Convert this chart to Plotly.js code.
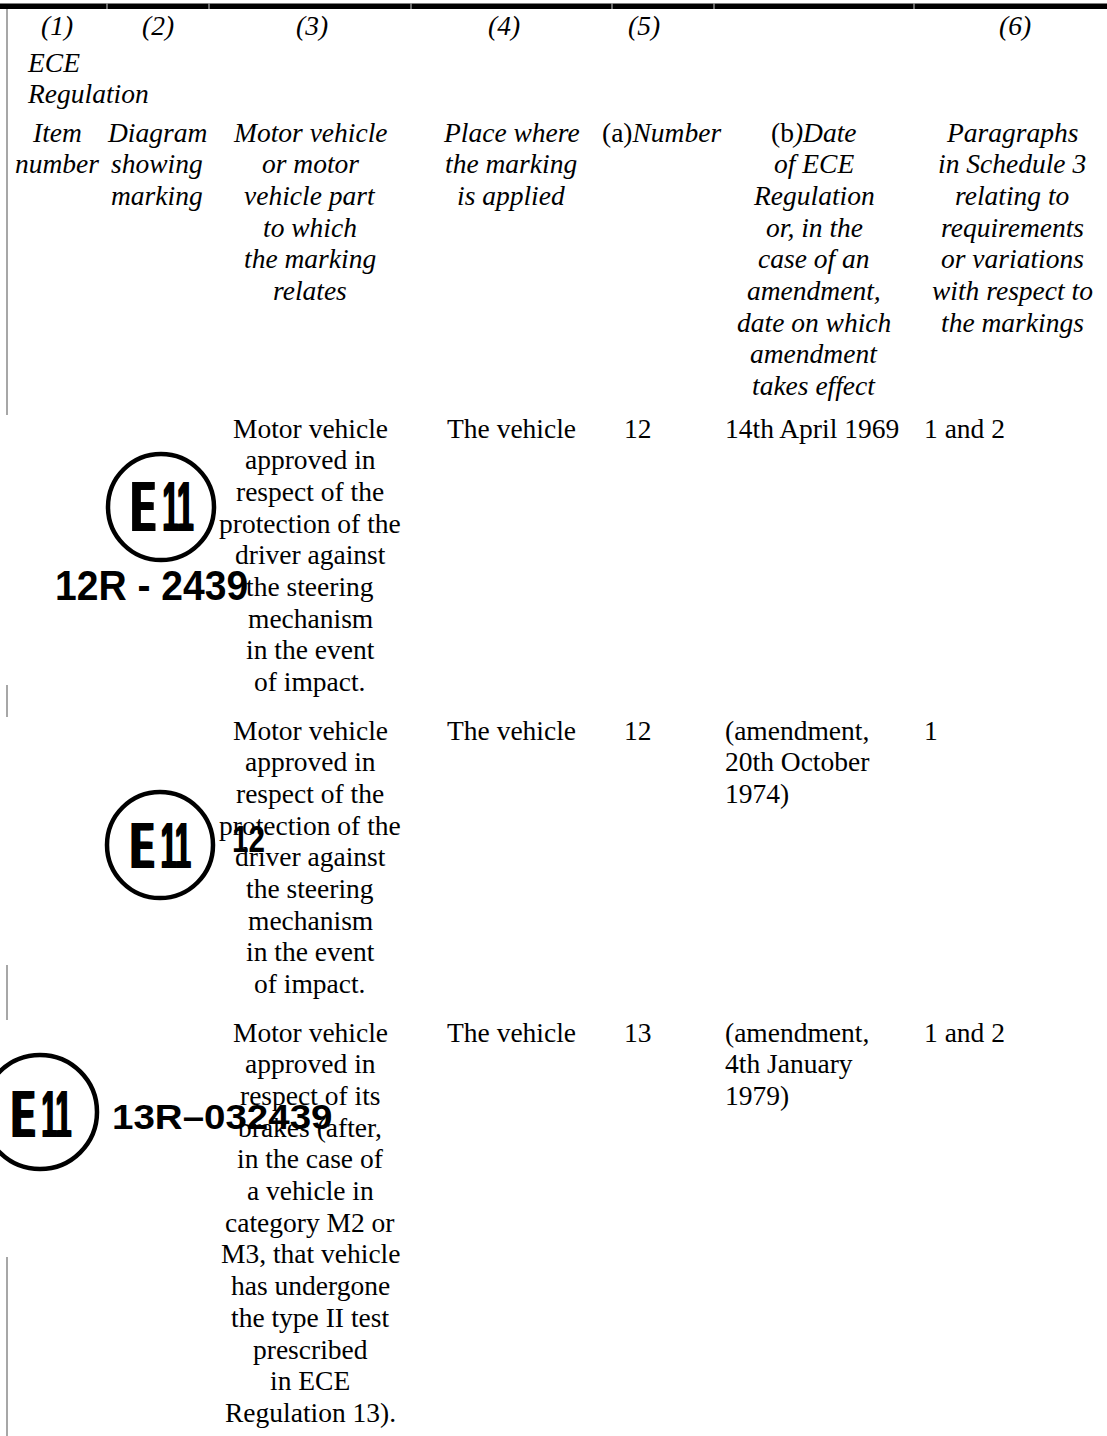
<!DOCTYPE html>
<html>
<head>
<meta charset="utf-8">
<script src="https://cdn.plot.ly/plotly-3.0.1.min.js"></script>
<style>html,body{margin:0;padding:0;background:#fff;}#chart{width:1107px;height:1436px;}</style>
</head>
<body>
<div id="chart"></div>
<script>
// ---------- DATA ----------
const headerNumbers = ['(1)', '(2)', '(3)', '(4)', '(5)', '(6)'];
const headerTop = ['ECE', 'Regulation'];
const headerCells = [
  'Item\nnumber',
  'Diagram\nshowing\nmarking',
  'Motor vehicle\nor motor\nvehicle part\nto which\nthe marking\nrelates',
  'Place where\nthe marking\nis applied',
  '(a)<i>Number</i>',
  '(b<i>)Date</i>\n<i>of ECE</i>\n<i>Regulation</i>\n<i>or, in the</i>\n<i>case of an</i>\n<i>amendment,</i>\n<i>date on which</i>\n<i>amendment</i>\n<i>takes effect</i>',
  'Paragraphs\nin Schedule 3\nrelating to\nrequirements\nor variations\nwith respect to\nthe markings'
];
const vehicleDescriptions = [
  'Motor vehicle\napproved in\nrespect of the\nprotection of the\ndriver against\nthe steering\nmechanism\nin the event\nof impact.',
  'Motor vehicle\napproved in\nrespect of the\nprotection of the\ndriver against\nthe steering\nmechanism\nin the event\nof impact.',
  'Motor vehicle\napproved in\nrespect of its\nbrakes (after,\nin the case of\na vehicle in\ncategory M2 or\nM3, that vehicle\nhas undergone\nthe type II test\nprescribed\nin ECE\nRegulation 13).'
];
const markingPlaces = ['The vehicle', 'The vehicle', 'The vehicle'];
const regulationNumbers = ['12', '12', '13'];
const regulationDates = ['14th April 1969', '(amendment,\n20th October\n1974)', '(amendment,\n4th January\n1979)'];
const scheduleParagraphs = ['1 and 2', '1', '1 and 2'];
const markLetters = ['E', 'E', 'E'];
const markCountries = ['11', '11', '11'];
const markLabels = ['12R - 2439', '12', '13R\u2013032439'];

// ---------- LAYOUT CONSTANTS ----------
const W = 1107, H = 1436;
const SERIF = "'Liberation Serif', 'Times New Roman', Times, serif";
const MARKFONT = "'Liberation Sans Narrow', 'Liberation Sans', Arial, sans-serif";
const FS = 27.5, LH = 31.7;
const colBounds = [7, 107, 209, 411, 612, 714, 914, 1107];
const headerNumX = [57, 158, 312, 504, 644, 1015];
const headerCellX = [57, 157, 310, 511, 661, 814, 1012];
const headerNumY = 25, headerTopY = 62, headerCellY = 132;
const rowY = [428, 730, 1032];
const bodyX = {desc: 310, place: 511, num: 622, date: 723, para: 922};
const markCircle = [{cx: 161, cy: 507, r: 53}, {cx: 160, cy: 845, r: 53}, {cx: 40, cy: 1112, r: 57}];
const markLetterPos = [{x: 143, y: 507, s: 70, sx: 0.5}, {x: 142, y: 846, s: 64, sx: 0.52}, {x: 23, y: 1113, s: 67, sx: 0.5}];
const markCountryPos = [{x: 178, y: 507, s: 70, sx: 0.42}, {x: 176, y: 846, s: 64, sx: 0.44}, {x: 56, y: 1113, s: 67, sx: 0.42}];
const markLabelPos = [{x: 53, y: 585, s: 42, sx: 0.93}, {x: 230, y: 839, s: 37, sx: 0.8}, {x: 110, y: 1116, s: 35, sx: 1.1}];
const borderSegments = [[9, 415], [685, 717], [965, 1020], [1257, 1436]];

// ---------- BUILD ----------
const annotations = [];
const squeeze = [];
function txt(text, x, y, anchor, font) {
  annotations.push({x: x, y: y, xref: 'x', yref: 'y', text: text, showarrow: false,
    xanchor: anchor, yanchor: 'middle', font: font || {family: SERIF, size: FS, color: '#000'}});
  return annotations.length - 1;
}
function block(text, x, y0, anchor, italic) {
  text.split('\n').forEach(function (ln, k) {
    const t = (italic && ln.indexOf('<i>') < 0 && ln.indexOf('(a)') < 0) ? '<i>' + ln + '</i>' : ln;
    txt(t, x, y0 + k * LH, anchor);
  });
}

headerNumbers.forEach(function (t, i) { txt('<i>' + t + '</i>', headerNumX[i], headerNumY, 'center'); });
headerTop.forEach(function (t, i) { txt('<i>' + t + '</i>', 25, headerTopY + i * LH, 'left'); });
headerCells.forEach(function (t, i) { block(t, headerCellX[i], headerCellY, 'center', true); });

vehicleDescriptions.forEach(function (t, i) { block(t, bodyX.desc, rowY[i], 'center', false); });
markingPlaces.forEach(function (t, i) { block(t, bodyX.place, rowY[i], 'center', false); });
regulationNumbers.forEach(function (t, i) { block(t, bodyX.num, rowY[i], 'left', false); });
regulationDates.forEach(function (t, i) { block(t, bodyX.date, rowY[i], 'left', false); });
scheduleParagraphs.forEach(function (t, i) { block(t, bodyX.para, rowY[i], 'left', false); });

markLetters.forEach(function (t, i) {
  const p = markLetterPos[i];
  const idx = txt('<b>' + t + '</b>', p.x, p.y, 'center',
    {family: MARKFONT, size: p.s, color: '#000', weight: 'bold', shadow: '3px 0 0 #000, -3px 0 0 #000'});
  squeeze.push({index: idx, sx: p.sx, anchor: 'center'});
});
markCountries.forEach(function (t, i) {
  const p = markCountryPos[i];
  const idx = txt('<b>' + t + '</b>', p.x, p.y, 'center',
    {family: MARKFONT, size: p.s, color: '#000', weight: 'bold', shadow: '1.5px 0 0 #000, -1.5px 0 0 #000'});
  squeeze.push({index: idx, sx: p.sx, anchor: 'center'});
});
markLabels.forEach(function (t, i) {
  const p = markLabelPos[i];
  const idx = txt('<b>' + t + '</b>', p.x, p.y, 'left', {family: MARKFONT, size: p.s, color: '#000', weight: 'bold'});
  squeeze.push({index: idx, sx: p.sx, anchor: 'left'});
});

const shapes = [];
shapes.push({type: 'rect', xref: 'x', yref: 'y', x0: 0, x1: W, y0: 3.5, y1: 9, fillcolor: '#000', line: {width: 0}, layer: 'above'});
colBounds.slice(1, -1).forEach(function (x) {
  shapes.push({type: 'line', xref: 'x', yref: 'y', x0: x, x1: x, y0: 3.5, y1: 9, line: {color: '#d0d0d0', width: 1}, layer: 'above'});
});
borderSegments.forEach(function (s) {
  shapes.push({type: 'line', xref: 'x', yref: 'y', x0: 7, x1: 7, y0: s[0], y1: s[1], line: {color: '#8a8a8a', width: 1.5}});
});
markCircle.forEach(function (c) {
  shapes.push({type: 'circle', xref: 'x', yref: 'y', x0: c.cx - c.r, x1: c.cx + c.r, y0: c.cy - c.r, y1: c.cy + c.r,
    line: {color: '#000', width: 4.5}, fillcolor: 'rgba(0,0,0,0)'});
});

const layout = {
  width: W, height: H,
  margin: {l: 0, r: 0, t: 0, b: 0, pad: 0},
  paper_bgcolor: '#fff', plot_bgcolor: '#fff',
  showlegend: false,
  xaxis: {range: [0, W], visible: false, fixedrange: true},
  yaxis: {range: [H, 0], visible: false, fixedrange: true},
  annotations: annotations,
  shapes: shapes
};
Plotly.newPlot('chart', [], layout, {staticPlot: true, displayModeBar: false}).then(function (gd) {
  squeeze.forEach(function (sq) {
    const g = gd.querySelector('.annotation[data-index="' + sq.index + '"]');
    if (!g) return;
    const t = g.querySelector('text.annotation-text');
    if (!t) return;
    const bb = t.getBBox();
    const ax = sq.anchor === 'left' ? bb.x : bb.x + bb.width / 2;
    const prev = t.getAttribute('transform') || '';
    t.setAttribute('transform', (prev + ' translate(' + ax + ',0) scale(' + sq.sx + ',1) translate(' + (-ax) + ',0)').trim());
  });
});
</script>
</body>
</html>
